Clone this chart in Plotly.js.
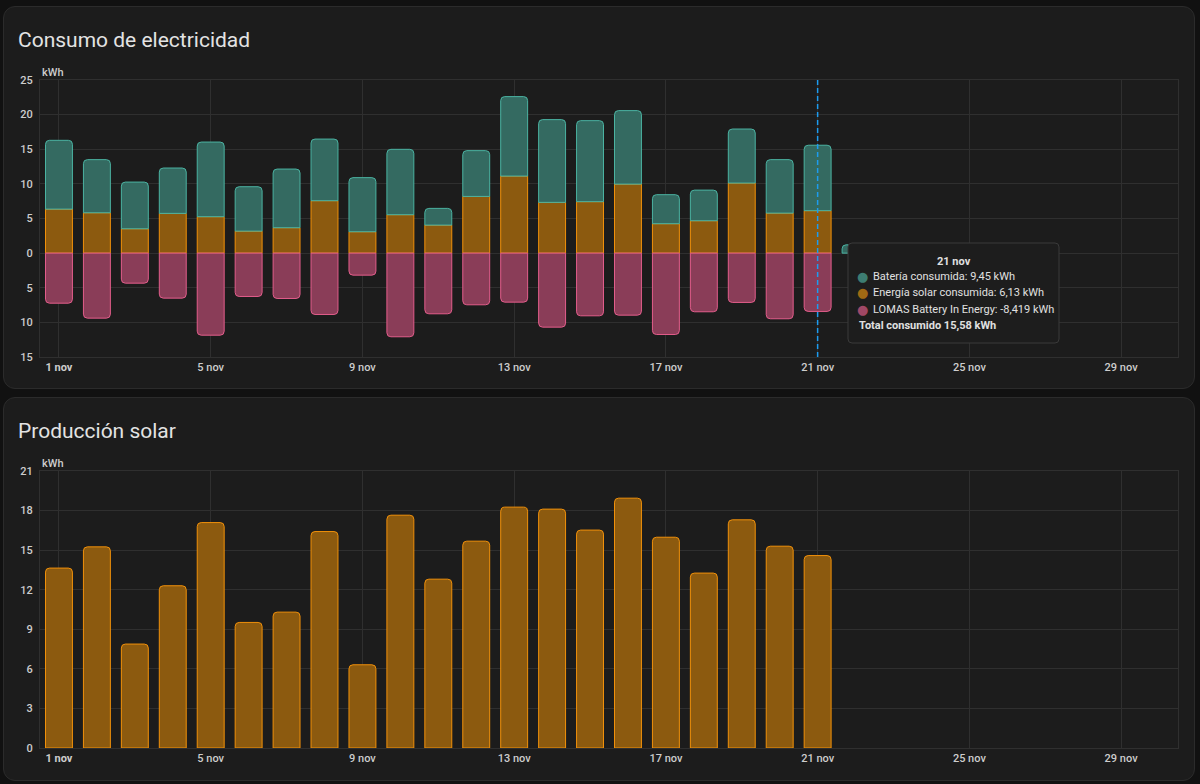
<!DOCTYPE html>
<html>
<head>
<meta charset="utf-8">
<script src="https://cdn.plot.ly/plotly-3.0.1.min.js"></script>
<style>
  html, body { margin: 0; padding: 0; background: #111111; width: 1200px; height: 784px; overflow: hidden; }
  .card { position: absolute; left: 3px; width: 1190px; background: #1c1c1c; border: 1px solid #2b2b2b; border-radius: 12px; overflow: hidden; }
  #consumo { top: 6px; height: 381px; }
  #solar { top: 397px; height: 382px; }
</style>
</head>
<body>
<div class="card" id="consumo"></div>
<div class="card" id="solar"></div>
<script>
// Days of November shown on the charts
const days = ['2024-11-01','2024-11-02','2024-11-03','2024-11-04','2024-11-05','2024-11-06','2024-11-07',
  '2024-11-08','2024-11-09','2024-11-10','2024-11-11','2024-11-12','2024-11-13','2024-11-14',
  '2024-11-15','2024-11-16','2024-11-17','2024-11-18','2024-11-19','2024-11-20','2024-11-21','2024-11-22'];

// Electricity consumption (kWh)
const bateriaConsumida = [9.93, 7.67, 6.74, 6.55, 10.78, 6.41, 8.47, 8.90, 7.81, 9.44, 2.41,
  6.61, 11.47, 11.95, 11.70, 10.61, 4.19, 4.42, 7.80, 7.72, 9.45, 1.2];
const solarConsumida = [6.36, 5.83, 3.52, 5.74, 5.26, 3.18, 3.67, 7.57, 3.09, 5.55, 4.05,
  8.19, 11.13, 7.33, 7.43, 9.97, 4.25, 4.68, 10.12, 5.78, 6.13, null];
const bateriaEntrada = [-7.23, -9.39, -4.34, -6.50, -11.85, -6.26, -6.55, -8.86, -3.18, -12.08, -8.76,
  -7.46, -7.08, -10.69, -9.05, -8.96, -11.75, -8.47, -7.12, -9.48, -8.419, null];

// Solar production (kWh)
const produccionSolar = [13.64, 15.25, 7.88, 12.30, 17.09, 9.52, 10.30, 16.41, 6.31, 17.65, 12.80,
  15.68, 18.26, 18.11, 16.52, 18.94, 15.98, 13.26, 17.30, 15.30, 14.59];

// X axis ticks
const tickDays = ['2024-11-01','2024-11-05','2024-11-09','2024-11-13','2024-11-17','2024-11-21','2024-11-25','2024-11-29'];
const tickLabels = ['<b>1 nov</b>','5 nov','9 nov','13 nov','17 nov','21 nov','25 nov','29 nov'];

// Y axis ticks
const consumoTicks = [-15, -10, -5, 0, 5, 10, 15, 20, 25];
const consumoTickLabels = ['15', '10', '5', '0', '5', '10', '15', '20', '25'];
const solarTicks = [0, 3, 6, 9, 12, 15, 18, 21];

// Selected day shown in the tooltip
const selIdx = 20;
const selLabel = '21 nov';

const DAY = 86400000;
const barWidth = 0.71 * DAY;
const FONT = 'Roboto, "Noto Sans", sans-serif';
const gridColor = '#2f2f2f';
const tickFont = { family: FONT, size: 11, color: '#cdcdcd', weight: 500 };

const colors = {
  teal: { fill: '#346a61', line: '#4bb3a2', dot: '#3d7d72' },
  orange: { fill: '#8c5a0f', line: '#f0900a', dot: '#a06914' },
  pink: { fill: '#8a3d58', line: '#e25d8b', dot: '#a04866' }
};

function fmt(v, d) { return v.toFixed(d).replace('.', ','); }

function xaxisCfg() {
  return {
    type: 'date',
    range: ['2024-10-31 12:00', '2024-11-30 12:00'],
    tickmode: 'array', tickvals: tickDays, ticktext: tickLabels,
    showgrid: true, gridcolor: gridColor, gridwidth: 1,
    showline: true, linecolor: gridColor, mirror: true,
    zeroline: false, ticks: '', tickfont: tickFont, fixedrange: true
  };
}

function yaxisCfg(range, vals, text) {
  return {
    range: range, tickmode: 'array', tickvals: vals, ticktext: text,
    showgrid: true, gridcolor: gridColor, zeroline: false,
    showline: true, linecolor: gridColor, mirror: true,
    ticks: '', tickfont: tickFont, ticklabelstandoff: 4, fixedrange: true
  };
}

function titleCfg(text, h) {
  return {
    text: text, font: { family: FONT, size: 21, color: '#e3e3e3' },
    x: 14 / 1190, xref: 'container', xanchor: 'left',
    y: 1 - 33 / h, yref: 'container', yanchor: 'middle'
  };
}

function kwhLabel() {
  return { text: 'kWh', xref: 'paper', yref: 'paper', x: 0, y: 1, xanchor: 'left', yanchor: 'middle',
    yshift: 8, showarrow: false, font: { family: FONT, size: 11, color: '#cdcdcd', weight: 500 } };
}

// ---------- Consumo de electricidad ----------
const W = 1190, H1 = 381;
const m1 = { l: 36, r: 16, t: 73, b: 31 };
const pw = W - m1.l - m1.r, ph = H1 - m1.t - m1.b;
const px = x => (x - m1.l) / pw;
const py = y => (H1 - m1.b - y) / ph;

function barTrace(name, values, c) {
  return {
    type: 'bar', name: name, x: days, y: values, width: barWidth,
    marker: { color: c.fill, line: { color: c.line, width: 1 }, cornerradius: 4 },
    hoverinfo: 'skip'
  };
}

const consumoData = [
  barTrace('Energía solar consumida', solarConsumida, colors.orange),
  barTrace('Batería consumida', bateriaConsumida, colors.teal),
  barTrace('LOMAS Battery In Energy', bateriaEntrada, colors.pink)
];

// Tooltip box geometry (card pixels)
const tip = { x0: 844, x1: 1055, y0: 236, y1: 336, r: 4 };
function roundedPath(b) {
  const rx = b.r / pw, ry = b.r / ph;
  const X0 = px(b.x0), X1 = px(b.x1), Y0 = py(b.y1), Y1 = py(b.y0);
  return `M${X0 + rx},${Y0} L${X1 - rx},${Y0} Q${X1},${Y0} ${X1},${Y0 + ry} L${X1},${Y1 - ry} Q${X1},${Y1} ${X1 - rx},${Y1}` +
    ` L${X0 + rx},${Y1} Q${X0},${Y1} ${X0},${Y1 - ry} L${X0},${Y0 + ry} Q${X0},${Y0} ${X0 + rx},${Y0} Z`;
}

const tipFont = { family: FONT, size: 11, color: '#e0e0e0' };
const totalSel = bateriaConsumida[selIdx] + solarConsumida[selIdx];
const tipLines = [
  { dot: colors.teal.dot, text: 'Batería consumida: ' + fmt(bateriaConsumida[selIdx], 2) + ' kWh' },
  { dot: colors.orange.dot, text: 'Energía solar consumida: ' + fmt(solarConsumida[selIdx], 2) + ' kWh' },
  { dot: colors.pink.dot, text: 'LOMAS Battery In Energy: ' + fmt(bateriaEntrada[selIdx], 3) + ' kWh' }
];
const lineY = [269, 285.5, 302];

const consumoAnn = [kwhLabel(),
  { text: '<b>' + selLabel + '</b>', xref: 'paper', yref: 'paper', x: px(949.5), y: py(254),
    xanchor: 'center', yanchor: 'middle', showarrow: false, font: tipFont },
  { text: '<b>Total consumido ' + fmt(totalSel, 2) + ' kWh</b>', xref: 'paper', yref: 'paper', x: px(853), y: py(318),
    xanchor: 'left', yanchor: 'middle', showarrow: false, font: tipFont }
];
tipLines.forEach((l, i) => {
  consumoAnn.push({ text: '●', xref: 'paper', yref: 'paper', x: px(858.5), y: py(lineY[i]), xanchor: 'center', yanchor: 'middle',
    showarrow: false, font: { family: '"DejaVu Sans", sans-serif', size: 13, color: l.dot } });
  consumoAnn.push({ text: l.text, xref: 'paper', yref: 'paper', x: px(867), y: py(lineY[i]), xanchor: 'left', yanchor: 'middle',
    showarrow: false, font: tipFont });
});

const consumoLayout = {
  width: W, height: H1, margin: m1,
  paper_bgcolor: 'rgba(0,0,0,0)', plot_bgcolor: 'rgba(0,0,0,0)',
  title: titleCfg('Consumo de electricidad', H1),
  barmode: 'relative', showlegend: false, hovermode: false,
  xaxis: xaxisCfg(),
  yaxis: yaxisCfg([-15, 25], consumoTicks, consumoTickLabels),
  shapes: [
    { type: 'line', xref: 'x', yref: 'paper', x0: days[selIdx], x1: days[selIdx], y0: 0, y1: 1,
      line: { color: '#1c9cf0', width: 1.5, dash: '5px,3px' }, layer: 'above' },
    { type: 'path', xref: 'paper', yref: 'paper', path: roundedPath(tip),
      fillcolor: '#1d1d1d', line: { color: '#3a3a3a', width: 1 }, layer: 'above' }
  ],
  annotations: consumoAnn
};

Plotly.newPlot('consumo', consumoData, consumoLayout, { displayModeBar: false, staticPlot: true });

// ---------- Producción solar ----------
const H2 = 382;
const m2 = { l: 36, r: 16, t: 73, b: 32 };
const solarData = [
  Object.assign(barTrace('Producción solar', produccionSolar, colors.orange), { x: days.slice(0, produccionSolar.length) })
];
const solarLayout = {
  width: W, height: H2, margin: m2,
  paper_bgcolor: 'rgba(0,0,0,0)', plot_bgcolor: 'rgba(0,0,0,0)',
  title: titleCfg('Producción solar', H2),
  showlegend: false, hovermode: false,
  xaxis: xaxisCfg(),
  yaxis: yaxisCfg([0, 21], solarTicks, solarTicks.map(String)),
  annotations: [kwhLabel()]
};
Plotly.newPlot('solar', solarData, solarLayout, { displayModeBar: false, staticPlot: true });
</script>
</body>
</html>
